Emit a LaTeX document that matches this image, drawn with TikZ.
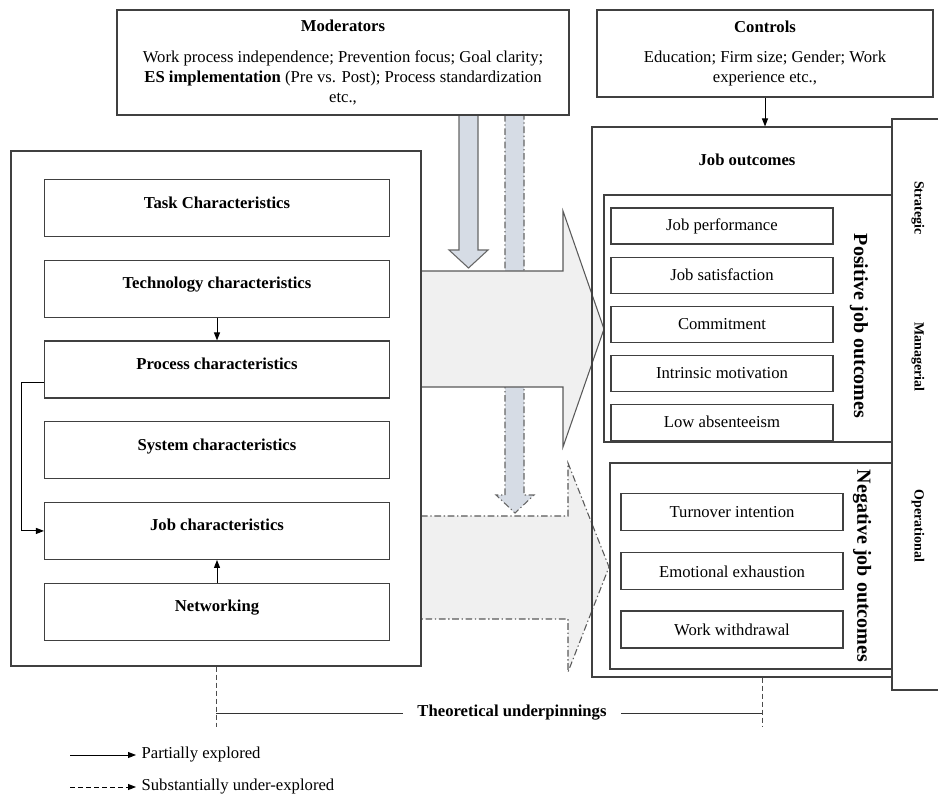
\documentclass[tikz,border=0pt]{standalone}
\usepackage{fontspec}
\setmainfont{Liberation Serif}
\usetikzlibrary{positioning, arrows.meta}

\definecolor{arrowgrey}{HTML}{F0F0F0}
\definecolor{modblue}{HTML}{D6DCE5}
\definecolor{linegrey}{HTML}{404040}

\tikzset{
  every node/.style={font=\fontsize{12.5}{15}\selectfont},
  box/.style={draw=linegrey, line width=0.8pt, rectangle, align=center, inner sep=2pt},
  charbox/.style={box, minimum width=258.75pt, minimum height=42.75pt,
    text height=10pt, text depth=10pt, font=\fontsize{12.5}{15}\selectfont\bfseries},
  outbox/.style={box, minimum width=166.5pt, minimum height=27pt},
  negbox/.style={box, minimum width=166.5pt, minimum height=27.75pt},
  sidelabel/.style={rotate=-90, font=\fontsize{15}{18}\selectfont\bfseries},
  levellabel/.style={rotate=-90, font=\fontsize{10.5}{13}\selectfont\bfseries},
  link/.style={draw=black, line width=0.7pt, -{Triangle[length=6pt, width=4.5pt]}},
  dashlink/.style={link, dash pattern=on 4pt off 2pt},
  bigarrow/.style={draw=black!65, line width=0.8pt, fill=arrowgrey},
  modarrow/.style={draw=black!60, line width=0.8pt, fill=modblue},
  dashdot/.style={dash pattern=on 5pt off 2pt on 1pt off 2pt},
}

\begin{document}
\begin{tikzpicture}[x=0.75pt, y=-0.75pt]
  \useasboundingbox (0,0) rectangle (938,795);

  % moderator arrows and big arrows
  \draw [modarrow, dashdot] (505,115) -- (505,495) -- (496,495) -- (515,513)
    -- (534,495) -- (524,495) -- (524,115) -- cycle;
  \draw [bigarrow] (421,271) -- (563,271) -- (563,211) -- (604,329)
    -- (563,447) -- (563,387) -- (421,387) -- cycle;
  \draw [modarrow] (459,115) -- (459,250) -- (449,250) -- (468.5,268)
    -- (488,250) -- (478,250) -- (478,115) -- cycle;
  \draw [bigarrow, dashdot] (421,516) -- (568,516) -- (568,463) -- (609,567)
    -- (568,672) -- (568,619) -- (421,619) -- cycle;

  % top boxes
  \node [box, minimum width=339pt, minimum height=78.75pt] (mod) at (343,62.5)
    {\textbf{Moderators}\\[8pt]
     Work process independence; Prevention focus; Goal clarity;\\
     \textbf{ES implementation} (Pre vs. Post); Process standardization\\
     etc.,};
  \node [box, minimum width=252pt, minimum height=65.25pt] (ctrl) at (765,53.5)
    {\textbf{Controls}\\[8pt]
     Education; Firm size; Gender; Work\\
     experience etc.,};

  % left group
  \node [box, minimum width=307.5pt, minimum height=386.25pt] (left) at (216,408.5) {};
  \node [charbox] (task) at (217,208) {Task Characteristics};
  \node [charbox, below=17pt of task] (tech) {Technology characteristics};
  \node [charbox, below=17pt of tech] (proc) {Process characteristics};
  \node [charbox, below=17pt of proc] (sys) {System characteristics};
  \node [charbox, below=17pt of sys] (job) {Job characteristics};
  \node [charbox, below=17pt of job] (net) {Networking};

  \draw [link] (tech) -- (proc);
  \draw [link] (net) -- (job);
  \draw [link] ([yshift=-10pt]proc.west) -- ++(-23,0) |- (job.west);

  % job outcomes
  \node [box, minimum width=225pt, minimum height=412.5pt] (jobout) at (742,402) {};
  \node [font=\fontsize{12.5}{15}\selectfont\bfseries] (jobtitle) at (747,160) {Job outcomes};
  \draw [link] (ctrl.south) -- (ctrl.south |- jobout.north);

  \node [box, minimum width=216pt, minimum height=185.25pt] (pos) at (748,318.5) {};
  \node [outbox] (perf) at (722,226) {Job performance};
  \node [outbox, below=9pt of perf] (sat) {Job satisfaction};
  \node [outbox, below=9pt of sat] (commit) {Commitment};
  \node [outbox, below=9pt of commit] (motiv) {Intrinsic motivation};
  \node [outbox, below=9pt of motiv] (absent) {Low absenteeism};
  \node [sidelabel] (postitle) at (859,326) {Positive job outcomes};

  \node [box, minimum width=211.5pt, minimum height=154.5pt] (neg) at (751,566) {};
  \node [negbox] (turn) at (732,512) {Turnover intention};
  \node [negbox, below=16pt of turn] (exhaust) {Emotional exhaustion};
  \node [negbox, below=15pt of exhaust] (withdraw) {Work withdrawal};
  \node [sidelabel] (negtitle) at (862,566) {Negative job outcomes};

  % levels
  \draw [draw=linegrey, line width=0.8pt] (938,119) -| (892,690) -- (938,690);
  \node [levellabel] (strat) at (918,208) {Strategic};
  \node [levellabel] (manag) at (918,357) {Managerial};
  \node [levellabel] (oper) at (918,526) {Operational};

  % theoretical underpinnings
  \node [font=\fontsize{12.5}{15}\selectfont\bfseries, inner xsep=11pt] (theory) at (512,713)
    {Theoretical underpinnings};
  \coordinate (tl) at (216,727);
  \coordinate (tr) at (762,726);
  \draw [black!70, line width=0.7pt, dash pattern=on 4pt off 2pt] (left.south) -- (tl);
  \draw [black!70, line width=0.7pt, dash pattern=on 4pt off 2pt] (tr |- jobout.south) -- (tr);
  \draw [black!80, line width=0.7pt] (left.south |- theory) -- (theory.west);
  \draw [black!80, line width=0.7pt] (theory.east) -- (theory -| tr);

  % legend
  \coordinate (leg1) at (70,755);
  \coordinate (leg2) at (70,787);
  \node [anchor=west, inner sep=4pt] (leg1text) at (136,755) {Partially explored};
  \node [anchor=west, inner sep=4pt] (leg2text) at (136,787) {Substantially under-explored};
  \draw [link] (leg1) -- (leg1text.west);
  \draw [dashlink] (leg2) -- (leg2text.west);
\end{tikzpicture}
\end{document}
